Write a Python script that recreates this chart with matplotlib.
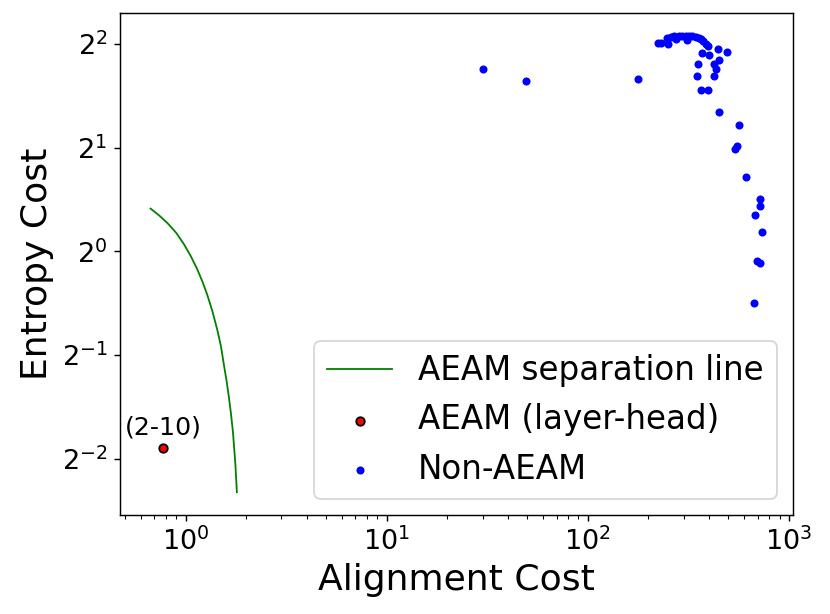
import matplotlib
matplotlib.use("Agg")
import matplotlib.pyplot as plt

# AEAM separation line
line_align = [0.67, 0.74, 0.81, 0.90, 0.98, 1.06, 1.14, 1.21, 1.28, 1.36, 1.44, 1.50, 1.55, 1.60, 1.64, 1.68, 1.72, 1.77, 1.80]
line_entropy = [1.33, 1.27, 1.21, 1.13, 1.05, 0.97, 0.89, 0.82, 0.75, 0.67, 0.59, 0.53, 0.47, 0.42, 0.38, 0.34, 0.30, 0.24, 0.20]

# AEAM head (layer-head)
aeam_align = [0.775]
aeam_entropy = [0.268]
aeam_label = "(2-10)"

# Non-AEAM heads
non_align = [30.0, 49.6, 178.8, 224.7, 230.9, 249.0, 251.8, 258.8, 268.8, 275.9,
             284.6, 295.5, 307.2, 312.8, 318.9, 331.2, 344.3, 357.5, 364.5, 374.2,
             386.0, 397.6, 445.7, 492.1, 368.7, 400.8, 449.3, 354.6, 424.3, 432.6,
             349.4, 424.3, 367.0, 394.9, 450.8, 564.5, 553.6, 543.5, 613.5, 719.7,
             717.3, 683.0, 739.7, 698.8, 717.3, 672.2]
non_entropy = [3.37, 3.13, 3.17, 4.01, 4.02, 4.17, 3.99, 4.19, 4.21, 4.12,
               4.22, 4.22, 4.22, 4.10, 4.22, 4.21, 4.19, 4.17, 4.12, 4.08,
               4.00, 3.93, 3.86, 3.78, 3.75, 3.70, 3.59, 3.49, 3.49, 3.39,
               3.22, 3.22, 2.93, 2.94, 2.545, 2.333, 2.027, 1.983, 1.639, 1.415,
               1.354, 1.277, 1.141, 0.936, 0.924, 0.708]

fig = plt.figure(figsize=(830 / 130, 614 / 130), dpi=130)
ax = fig.add_axes([120 / 830, 1 - 515 / 614, 673 / 830, 502 / 614])

ax.plot(line_align, line_entropy, color="green", linewidth=1.0, label="AEAM separation line")
ax.scatter(aeam_align, aeam_entropy, s=22, color="red", edgecolors="black",
           linewidths=1.0, label="AEAM (layer-head)", zorder=3)
ax.annotate(aeam_label, (aeam_align[0], aeam_entropy[0]), xytext=(0, 5),
            textcoords="offset points", ha="center", va="bottom", fontsize=14)
ax.scatter(non_align, non_entropy, s=12, color="blue", label="Non-AEAM", zorder=3)

ax.set_xscale("log")
ax.set_yscale("log", base=2)
ax.set_xlabel("Alignment Cost", fontsize=20)
ax.set_ylabel("Entropy Cost", fontsize=20)
ax.tick_params(axis="both", which="major", labelsize=15)
ax.legend(loc="lower right", fontsize=18)

fig.savefig("out.png", dpi=130)
